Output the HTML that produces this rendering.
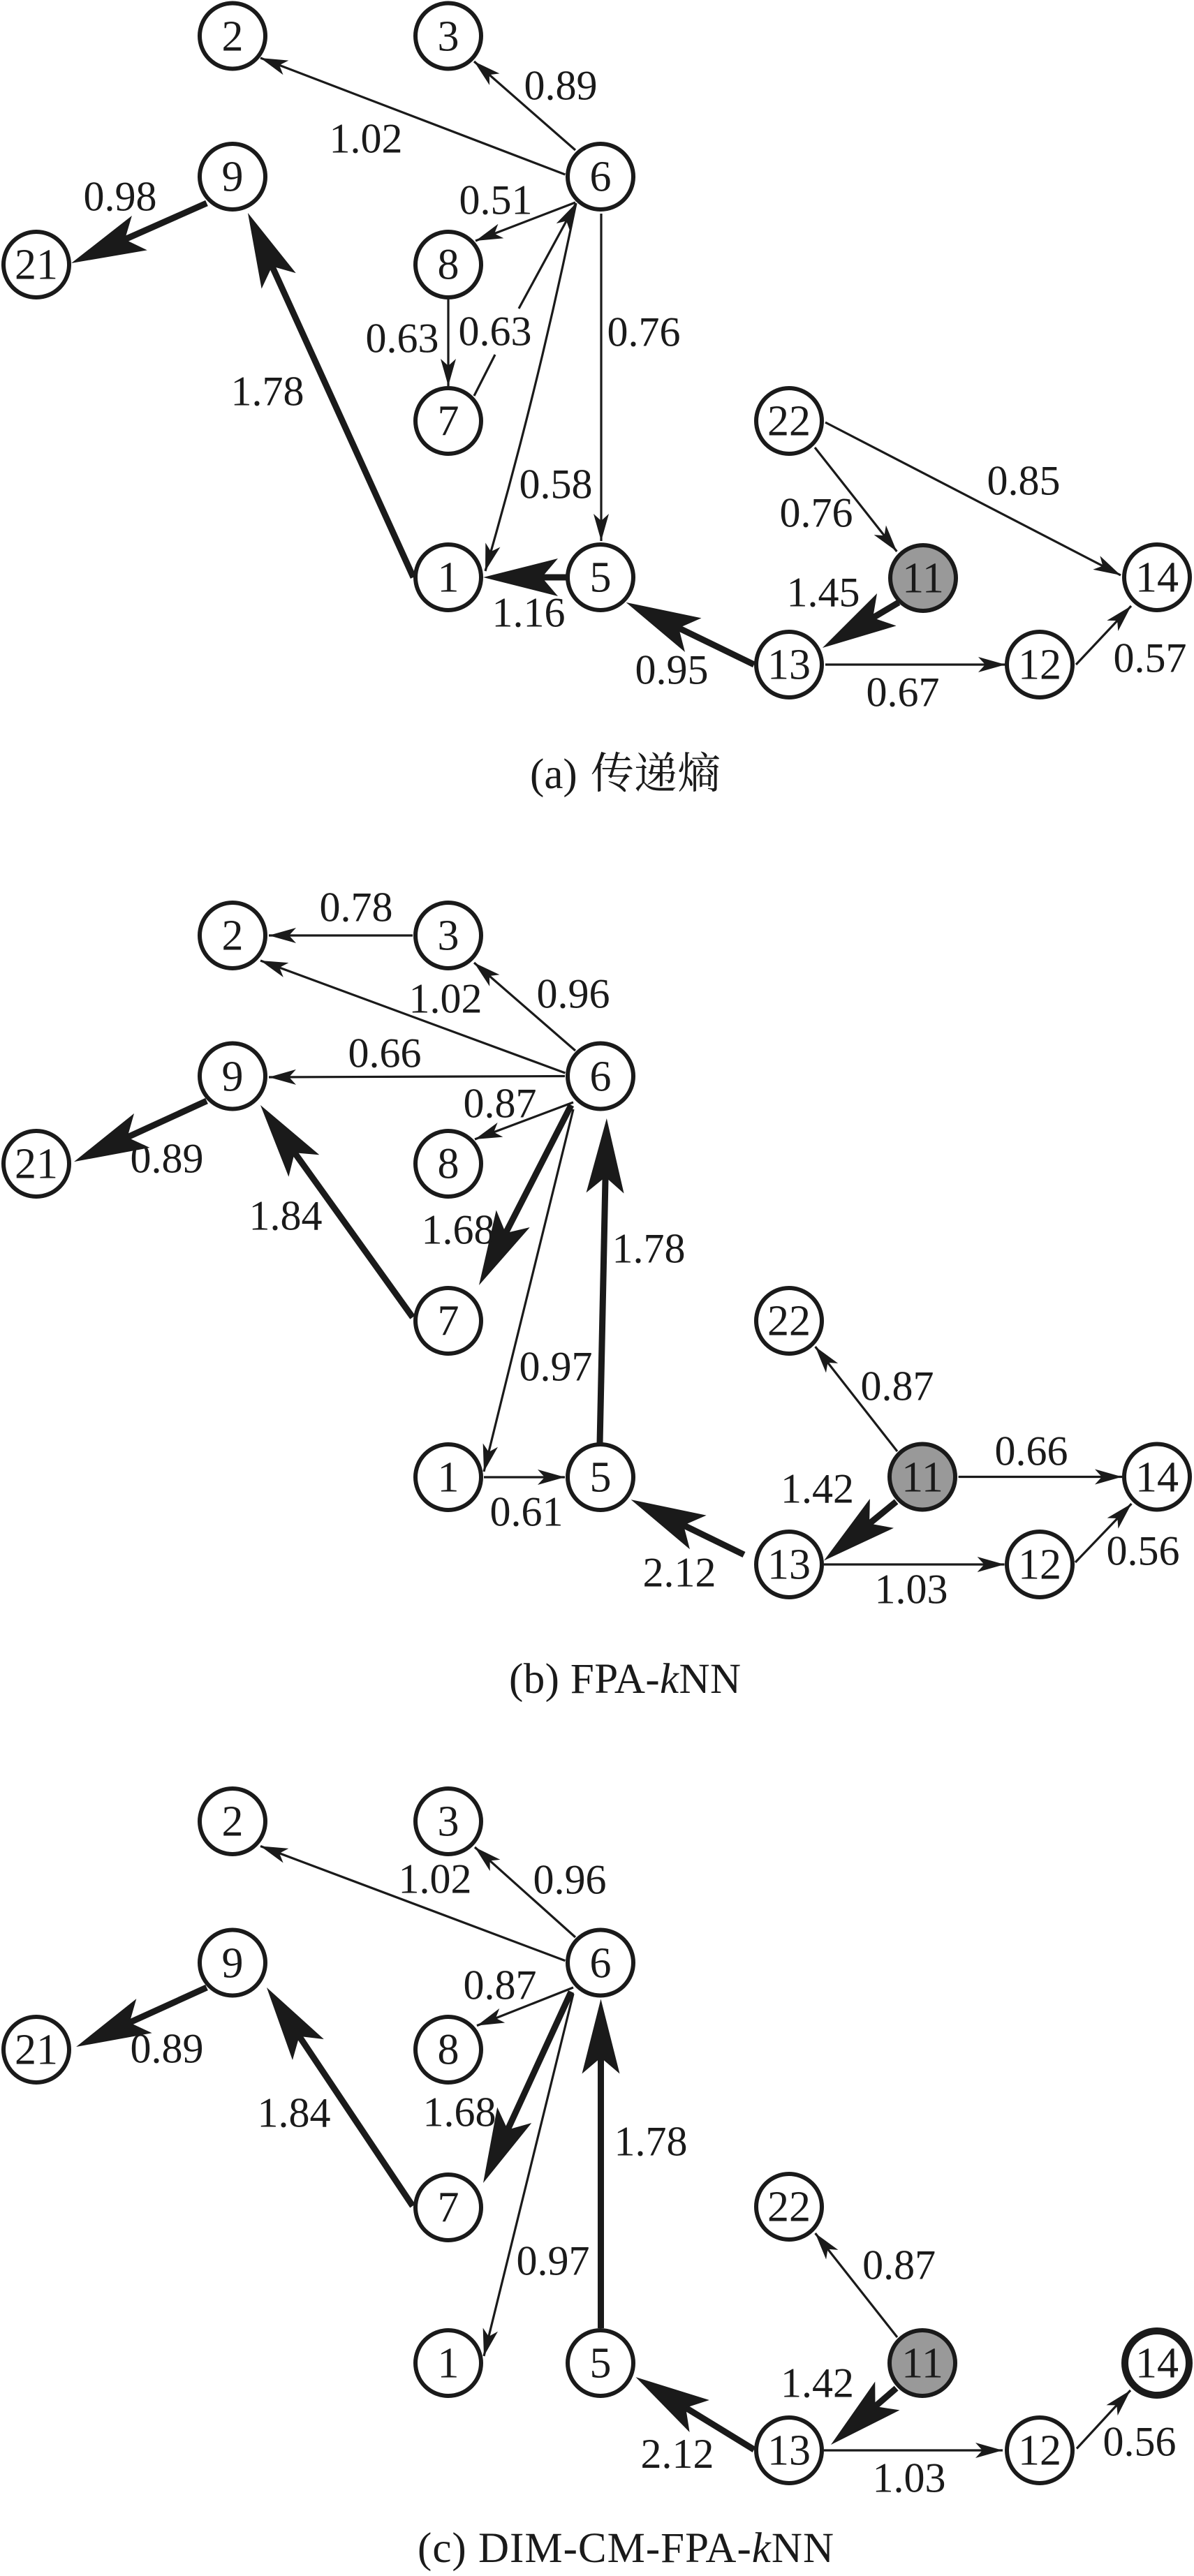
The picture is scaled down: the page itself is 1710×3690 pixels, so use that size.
<!DOCTYPE html>
<html lang="zh">
<head>
<meta charset="utf-8">
<title>Diagram</title>
<style>
html,body{margin:0;padding:0;background:#fff;width:1710px;height:3690px;overflow:hidden}
svg{display:block}
text{font-family:"Liberation Serif","Noto Serif CJK SC",serif;font-size:61px;fill:#1a1a1a}
.l text,.n text{text-anchor:middle}
.l text{font-size:60px;transform:translateY(.5px)}
.n text{font-size:62px;transform:translateY(1.5px)}
.t line,.t path{stroke:#1a1a1a;stroke-width:3.2;fill:none;marker-end:url(#thin)}
.t line.nm{marker-end:none}
.h line{stroke:#1a1a1a;stroke-width:9;marker-end:url(#thick)}
.n circle{fill:#fff;stroke:#1a1a1a;stroke-width:6}
.n circle.g{fill:#999}
.n circle.b{stroke-width:10}
</style>
</head>
<body>
<svg xmlns="http://www.w3.org/2000/svg" width="1710" height="3690" viewBox="0 0 1710 3690">
<defs>
<marker id="thin" markerUnits="userSpaceOnUse" viewBox="0 0 39 22" refX="39" refY="11" markerWidth="39" markerHeight="22" orient="auto"><polygon points="0,0 39,11 0,22 10,11" fill="#1a1a1a"/></marker>
<marker id="thick" markerUnits="userSpaceOnUse" viewBox="0 0 107 54" refX="67" refY="27" markerWidth="107" markerHeight="54" orient="auto"><polygon points="0,0 107,27 0,54 23,27" fill="#1a1a1a"/></marker>
</defs>

<!-- Panel a -->
<g class="t">
<line x1="809.4" y1="250" x2="373" y2="83"/>
<line x1="824" y1="215" x2="679" y2="88"/>
<line x1="824" y1="290" x2="681" y2="345"/>
<line x1="642" y1="429" x2="642" y2="553"/>
<line class="nm" x1="679" y1="567" x2="709" y2="508"/>
<line x1="743" y1="442" x2="825" y2="291"/>
<path d="M825 291Q770 560 695 818"/>
<line x1="861" y1="306" x2="861" y2="775"/>
<line x1="1167" y1="641" x2="1284.4" y2="790"/>
<line x1="1182" y1="605" x2="1605" y2="824"/>
<line x1="1182" y1="952" x2="1440" y2="952"/>
<line x1="1541" y1="952" x2="1620" y2="868"/>
</g>
<g class="h">
<line x1="296" y1="291" x2="138.6" y2="360.8"/>
<line x1="592" y1="827" x2="371.5" y2="341.4"/>
<line x1="813" y1="827" x2="732" y2="827"/>
<line x1="1080" y1="952" x2="932.5" y2="880.4"/>
<line x1="1287" y1="863" x2="1212.3" y2="907.5"/>
</g>
<g class="n">
<circle cx="333" cy="51.5" r="47"/><text x="333" y="71">2</text>
<circle cx="642" cy="51.5" r="47"/><text x="642" y="71">3</text>
<circle cx="333" cy="253" r="47"/><text x="333" y="272">9</text>
<circle cx="860" cy="253" r="47"/><text x="860" y="272">6</text>
<circle cx="52" cy="379" r="47"/><text x="52" y="398">21</text>
<circle cx="642" cy="379" r="47"/><text x="642" y="398">8</text>
<circle cx="642" cy="603" r="47"/><text x="642" y="622">7</text>
<circle cx="642" cy="827" r="47"/><text x="642" y="846">1</text>
<circle cx="860" cy="827" r="47"/><text x="860" y="846">5</text>
<circle cx="1130" cy="603" r="47"/><text x="1130" y="622">22</text>
<circle class="g" cx="1322" cy="828" r="47"/><text x="1322" y="847">11</text>
<circle cx="1657" cy="827" r="47"/><text x="1657" y="846">14</text>
<circle cx="1130" cy="952" r="47"/><text x="1130" y="971">13</text>
<circle cx="1489" cy="952" r="47"/><text x="1489" y="971">12</text>
</g>
<g class="l">
<text x="803" y="142">0.89</text>
<text x="524" y="218">1.02</text>
<text x="172" y="301">0.98</text>
<text x="710" y="306">0.51</text>
<text x="576" y="504">0.63</text>
<text x="709" y="494">0.63</text>
<text x="383" y="580">1.78</text>
<text x="796" y="713">0.58</text>
<text x="757" y="897">1.16</text>
<text x="922" y="495">0.76</text>
<text x="1466" y="708">0.85</text>
<text x="1169" y="754">0.76</text>
<text x="1179" y="868">1.45</text>
<text x="962" y="979">0.95</text>
<text x="1293" y="1011">0.67</text>
<text x="1647" y="962">0.57</text>
</g>
<text x="759" y="1129">(a)</text>
<text x="846" y="1129" style="font-size:62px">传递熵</text>

<!-- Panel b -->
<g class="t">
<line x1="591" y1="1340" x2="385" y2="1340"/>
<line x1="809.4" y1="1537" x2="373" y2="1376"/>
<line x1="824" y1="1505" x2="679" y2="1379"/>
<line x1="809" y1="1541.5" x2="385" y2="1543"/>
<line x1="821" y1="1579" x2="680" y2="1632"/>
<line x1="821" y1="1589" x2="693" y2="2108"/>
<line x1="693" y1="2116" x2="809" y2="2116"/>
<line x1="1285" y1="2079" x2="1167.6" y2="1929"/>
<line x1="1372.6" y1="2115.5" x2="1607" y2="2115.5"/>
<line x1="1180" y1="2241" x2="1438.6" y2="2241"/>
<line x1="1540" y1="2238" x2="1620.5" y2="2154"/>
</g>
<g class="h">
<line x1="296" y1="1577" x2="142.4" y2="1647.4"/>
<line x1="591" y1="1887" x2="396.3" y2="1615.5"/>
<line x1="818" y1="1583" x2="704.2" y2="1805.4"/>
<line x1="859" y1="2068" x2="868" y2="1642"/>
<line x1="1065.5" y1="2227" x2="939.5" y2="2165.6"/>
<line x1="1283.6" y1="2151" x2="1211" y2="2210.2"/>
</g>
<g class="n">
<circle cx="333" cy="1340" r="47"/><text x="333" y="1359">2</text>
<circle cx="642" cy="1340" r="47"/><text x="642" y="1359">3</text>
<circle cx="333" cy="1541.5" r="47"/><text x="333" y="1561">9</text>
<circle cx="860" cy="1541.5" r="47"/><text x="860" y="1561">6</text>
<circle cx="52" cy="1667" r="47"/><text x="52" y="1686">21</text>
<circle cx="642" cy="1667" r="47"/><text x="642" y="1686">8</text>
<circle cx="642" cy="1892" r="47"/><text x="642" y="1911">7</text>
<circle cx="642" cy="2116" r="47"/><text x="642" y="2135">1</text>
<circle cx="860" cy="2116" r="47"/><text x="860" y="2135">5</text>
<circle cx="1130" cy="1892" r="47"/><text x="1130" y="1911">22</text>
<circle class="g" cx="1321" cy="2115.5" r="47"/><text x="1321" y="2135">11</text>
<circle cx="1657" cy="2115.5" r="47"/><text x="1657" y="2135">14</text>
<circle cx="1130" cy="2241" r="47"/><text x="1130" y="2260">13</text>
<circle cx="1489" cy="2241" r="47"/><text x="1489" y="2260">12</text>
</g>
<g class="l">
<text x="510" y="1319">0.78</text>
<text x="638" y="1450">1.02</text>
<text x="821" y="1443">0.96</text>
<text x="551" y="1528">0.66</text>
<text x="716" y="1600">0.87</text>
<text x="239" y="1679">0.89</text>
<text x="409" y="1761">1.84</text>
<text x="656" y="1781">1.68</text>
<text x="796" y="1977">0.97</text>
<text x="754" y="2185">0.61</text>
<text x="929" y="1808">1.78</text>
<text x="1285" y="2005">0.87</text>
<text x="1477" y="2098">0.66</text>
<text x="1170.5" y="2152">1.42</text>
<text x="973" y="2272">2.12</text>
<text x="1305" y="2296">1.03</text>
<text x="1637" y="2241">0.56</text>
</g>
<text x="729" y="2425" textLength="332" lengthAdjust="spacing">(b) FPA-<tspan font-style="italic">k</tspan>NN</text>

<!-- Panel c -->
<g class="t">
<line x1="809.4" y1="2808.6" x2="373" y2="2644.5"/>
<line x1="824" y1="2775" x2="680" y2="2646"/>
<line x1="821" y1="2847" x2="683" y2="2901.6"/>
<line x1="821" y1="2856" x2="693" y2="3375"/>
<line x1="1285" y1="3348" x2="1167.6" y2="3199"/>
<line x1="1180" y1="3510" x2="1436" y2="3510"/>
<line x1="1542" y1="3507.5" x2="1619" y2="3424"/>
</g>
<g class="h">
<line x1="296" y1="2847" x2="145.5" y2="2915.4"/>
<line x1="591" y1="3160" x2="404.2" y2="2880.3"/>
<line x1="818" y1="2853" x2="708.7" y2="3090.7"/>
<line x1="860.5" y1="3335" x2="860.5" y2="2903.5"/>
<line x1="1080" y1="3509" x2="944.6" y2="3426"/>
<line x1="1283.6" y1="3421" x2="1220.2" y2="3475.8"/>
</g>
<g class="n">
<circle cx="333" cy="2609" r="47"/><text x="333" y="2628">2</text>
<circle cx="642" cy="2609" r="47"/><text x="642" y="2628">3</text>
<circle cx="333" cy="2811.5" r="47"/><text x="333" y="2831">9</text>
<circle cx="860" cy="2811.5" r="47"/><text x="860" y="2831">6</text>
<circle cx="52" cy="2936" r="47"/><text x="52" y="2955">21</text>
<circle cx="642" cy="2936" r="47"/><text x="642" y="2955">8</text>
<circle cx="642" cy="3162" r="47"/><text x="642" y="3181">7</text>
<circle cx="642" cy="3385" r="47"/><text x="642" y="3404">1</text>
<circle cx="860" cy="3385" r="47"/><text x="860" y="3404">5</text>
<circle cx="1130" cy="3161" r="47"/><text x="1130" y="3180">22</text>
<circle class="g" cx="1321" cy="3385" r="47"/><text x="1321" y="3404">11</text>
<circle class="b" cx="1657" cy="3385" r="46"/><text x="1657" y="3404">14</text>
<circle cx="1130" cy="3510" r="47"/><text x="1130" y="3529">13</text>
<circle cx="1489" cy="3510" r="47"/><text x="1489" y="3529">12</text>
</g>
<g class="l">
<text x="623" y="2711">1.02</text>
<text x="816" y="2712">0.96</text>
<text x="716" y="2863">0.87</text>
<text x="239" y="2954">0.89</text>
<text x="421" y="3046">1.84</text>
<text x="658" y="3045">1.68</text>
<text x="792" y="3258">0.97</text>
<text x="932" y="3087">1.78</text>
<text x="1287.6" y="3264">0.87</text>
<text x="1170.5" y="3433">1.42</text>
<text x="970" y="3534.5">2.12</text>
<text x="1302" y="3569">1.03</text>
<text x="1632" y="3517">0.56</text>
</g>
<text x="598" y="3670" textLength="596" lengthAdjust="spacing">(c) DIM-CM-FPA-<tspan font-style="italic">k</tspan>NN</text>
</svg>
</body>
</html>
